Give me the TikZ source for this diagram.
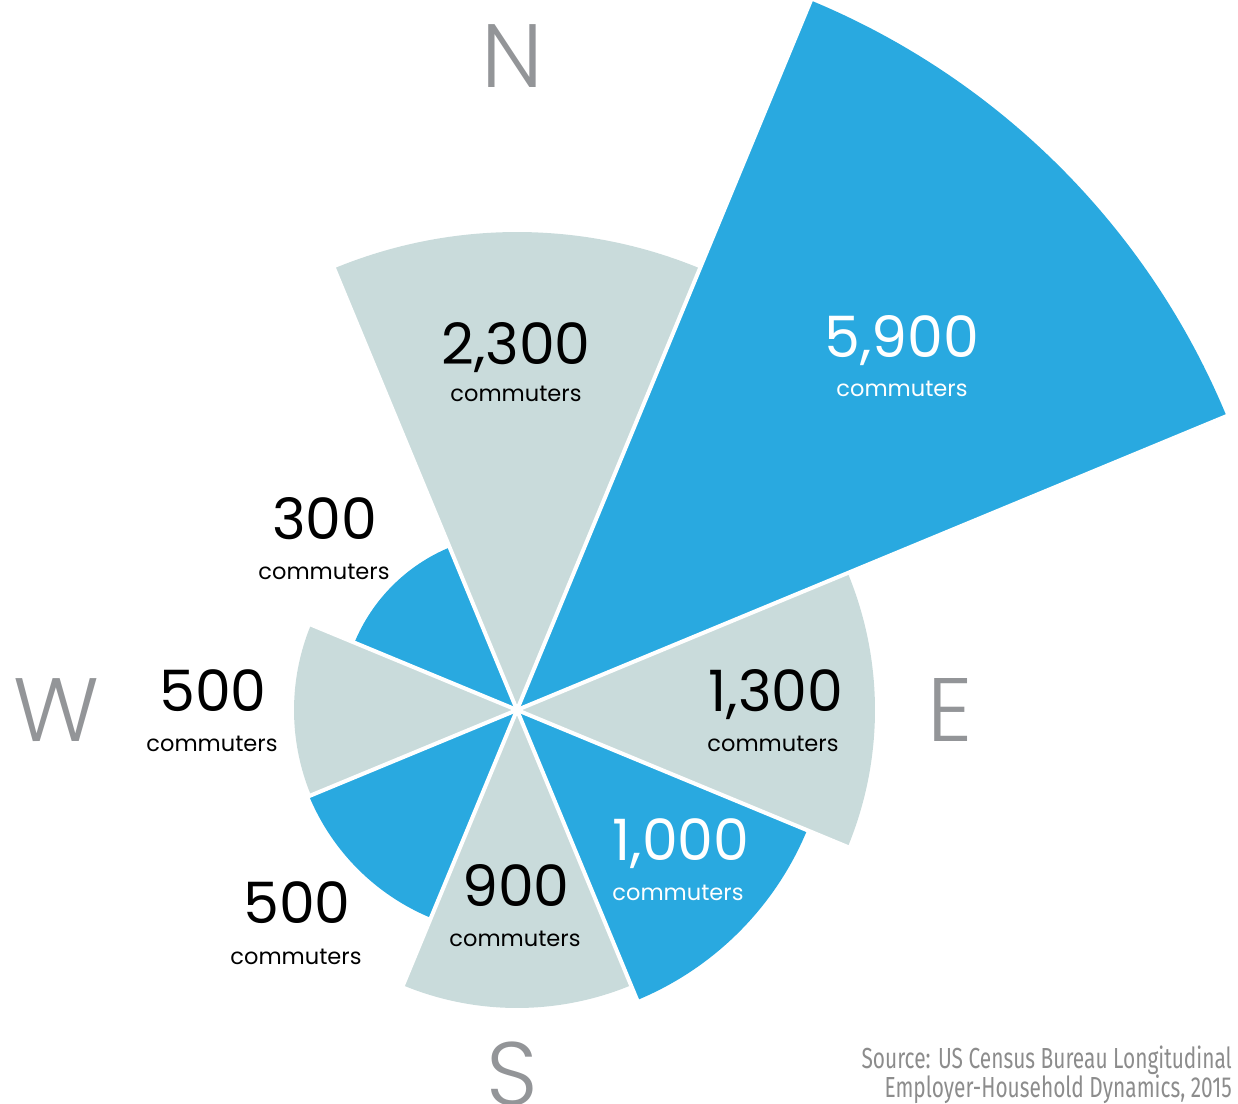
\documentclass[tikz,border=0pt]{standalone}
\usepackage{fontspec}
\setmainfont{Poppins}
\IfFontExistsTF{Poppins Light}{\newfontfamily\dirfont{Poppins Light}}{\newfontfamily\dirfont{Poppins}}
\newfontfamily\srcfont{Fira Sans}[FakeStretch=0.72]
\definecolor{cblue}{RGB}{41,169,224}
\definecolor{cgray}{RGB}{201,219,219}
\definecolor{compass}{RGB}{147,149,152}
\definecolor{srcgray}{RGB}{140,140,140}
\begin{document}
\begin{tikzpicture}[x=1pt,y=1pt,
  bluesec/.style={fill=cblue},
  graysec/.style={fill=cgray},
  gapline/.style={draw=white,line width=4pt},
  num/.style={font=\fontsize{57}{57}\selectfont, inner sep=0pt, anchor=base},
  comm/.style={font=\fontsize{22.5}{22.5}\selectfont, inner sep=0pt, anchor=base},
  dir/.style={font=\dirfont\fontsize{90}{90}\selectfont, text=compass, inner sep=0pt, anchor=base},
  src/.style={font=\srcfont\fontsize{29}{29}\selectfont, text=srcgray, inner sep=0pt, anchor=base east}]
\path[use as bounding box] (0,0) rectangle (1238,1103);
\coordinate (C) at (517,393);
% sectors
\fill[graysec] (C) -- ++(67.5:478) arc[start angle=67.5,end angle=112.5,radius=478] -- cycle;
\fill[bluesec] (C) -- ++(22.4:768) arc[start angle=22.4,end angle=67.4,radius=768] -- cycle;
\fill[graysec] (C) -- ++(-22.5:358) arc[start angle=-22.5,end angle=22.5,radius=358] -- cycle;
\fill[bluesec] (C) -- ++(-67.5:314) arc[start angle=-67.5,end angle=-22.5,radius=314] -- cycle;
\fill[graysec] (C) -- ++(-112.5:298) arc[start angle=-112.5,end angle=-67.5,radius=298] -- cycle;
\fill[bluesec] (C) -- ++(-157.5:225) arc[start angle=-157.5,end angle=-112.5,radius=225] -- cycle;
\fill[graysec] (C) -- ++(157.5:223) arc[start angle=157.5,end angle=202.5,radius=223] -- cycle;
\fill[bluesec] (C) -- ++(112.5:176) arc[start angle=112.5,end angle=157.5,radius=176] -- cycle;
% white gaps
\foreach \a/\l in {22.5/780,67.5/780,112.5/490,157.5/230,202.5/230,247.5/305,292.5/320,337.5/365}
  \draw[gapline] (C) -- ++(\a:\l);
% labels
\node[num] (n2300) at (516,738) {2,300};
\node[comm] (c2300) at (516,701) {commuters};
\node[num,text=white] (n5900) at (902,745) {5,900};
\node[comm,text=white] (c5900) at (902,706) {commuters};
\node[num] (n300) at (325,563) {300};
\node[comm] (c300) at (324,523) {commuters};
\node[num] (n500w) at (213,391) {500};
\node[comm] (c500w) at (212,351) {commuters};
\node[num] (n1300) at (776,391) {1,300};
\node[comm] (c1300) at (773,351) {commuters};
\node[num,text=white] (n1000) at (681,243) {1,000};
\node[comm,text=white] (c1000) at (678,203) {commuters};
\node[num] (n900) at (516,197) {900};
\node[comm] (c900) at (515,157) {commuters};
\node[num] (n500sw) at (297,180) {500};
\node[comm] (c500sw) at (296,139) {commuters};
% compass
\node[dir] (dN) at (512,1015) {N};
\node[dir] (dW) at (56,361) {W};
\node[dir] (dE) at (950,361) {E};
\node[dir] (dS) at (512,-2) {S};
% source
\node[src] (src1) at (1232,35) {Source: US Census Bureau Longitudinal};
\node[src] (src2) at (1232,6) {Employer-Household Dynamics, 2015};
\end{tikzpicture}
\end{document}
